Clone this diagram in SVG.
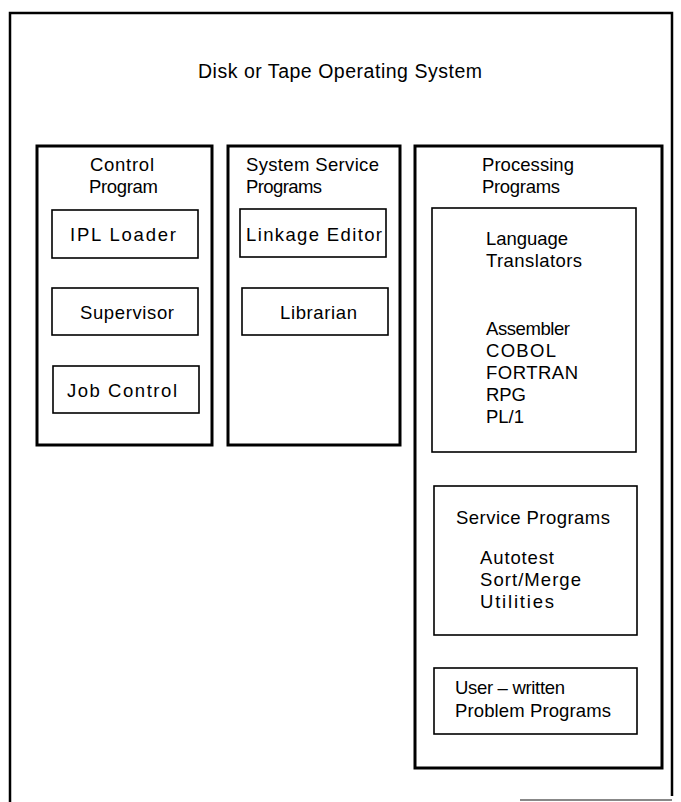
<svg xmlns="http://www.w3.org/2000/svg" width="681" height="802" viewBox="0 0 681 802">
<style>
.outer{fill:none;stroke:#000;stroke-width:2.5}
.major{fill:none;stroke:#000;stroke-width:3}
.minor{fill:none;stroke:#000;stroke-width:1.6}
text{font-family:"Liberation Sans",Arial,sans-serif;font-size:18.5px;fill:#000}
.title{font-size:19.5px}
</style>
<rect width="681" height="802" fill="#fff"/>
<g id="os">
<path class="outer" d="M10,802 V13 H672 V796"/>
<line x1="520" y1="800" x2="672" y2="800" stroke="#888" stroke-width="2"/>
<text class="title" x="198" y="78" textLength="284" lengthAdjust="spacing">Disk or Tape Operating System</text>
</g>
<g id="control-program">
<rect class="major" x="37" y="146" width="175" height="299"/>
<text x="90" y="171" textLength="64" lengthAdjust="spacing">Control</text>
<text x="89" y="193" textLength="69" lengthAdjust="spacing">Program</text>
</g>
<g id="ipl-loader">
<rect class="minor" x="52" y="210" width="146" height="48"/>
<text x="70" y="241" textLength="106" lengthAdjust="spacing">IPL Loader</text>
</g>
<g id="supervisor">
<rect class="minor" x="52" y="288" width="146" height="47"/>
<text x="80" y="319" textLength="94" lengthAdjust="spacing">Supervisor</text>
</g>
<g id="job-control">
<rect class="minor" x="53" y="366" width="146" height="47"/>
<text x="67" y="397" textLength="110" lengthAdjust="spacing">Job Control</text>
</g>
<g id="system-service-programs">
<rect class="major" x="228" y="146" width="172" height="299"/>
<text x="246" y="171" textLength="133" lengthAdjust="spacing">System Service</text>
<text x="246" y="193" textLength="76" lengthAdjust="spacing">Programs</text>
</g>
<g id="linkage-editor">
<rect class="minor" x="240" y="209" width="146" height="48"/>
<text x="246" y="241" textLength="136" lengthAdjust="spacing">Linkage Editor</text>
</g>
<g id="librarian">
<rect class="minor" x="242" y="288" width="146" height="47"/>
<text x="280" y="319" textLength="77" lengthAdjust="spacing">Librarian</text>
</g>
<g id="processing-programs">
<rect class="major" x="415" y="146" width="247" height="622"/>
<text x="482" y="171" textLength="92" lengthAdjust="spacing">Processing</text>
<text x="482" y="193" textLength="78" lengthAdjust="spacing">Programs</text>
</g>
<g id="language-translators">
<rect class="minor" x="432" y="208" width="204" height="244"/>
<text x="486" y="245" textLength="82" lengthAdjust="spacing">Language</text>
<text x="486" y="267" textLength="96" lengthAdjust="spacing">Translators</text>
<text x="486" y="335" textLength="84" lengthAdjust="spacing">Assembler</text>
<text x="486" y="357" textLength="70" lengthAdjust="spacing">COBOL</text>
<text x="486" y="379" textLength="92" lengthAdjust="spacing">FORTRAN</text>
<text x="486" y="401" textLength="40" lengthAdjust="spacing">RPG</text>
<text x="486" y="423" textLength="38" lengthAdjust="spacing">PL/1</text>
</g>
<g id="service-programs">
<rect class="minor" x="434" y="486" width="203" height="149"/>
<text x="456" y="524" textLength="154" lengthAdjust="spacing">Service Programs</text>
<text x="480" y="564" textLength="74" lengthAdjust="spacing">Autotest</text>
<text x="480" y="586" textLength="101" lengthAdjust="spacing">Sort/Merge</text>
<text x="480" y="608" textLength="74" lengthAdjust="spacing">Utilities</text>
</g>
<g id="user-written">
<rect class="minor" x="434" y="668" width="203" height="66"/>
<text x="455" y="694" textLength="110" lengthAdjust="spacing">User – written</text>
<text x="455" y="717" textLength="156" lengthAdjust="spacing">Problem Programs</text>
</g>
<g id="connectors"></g>
</svg>
